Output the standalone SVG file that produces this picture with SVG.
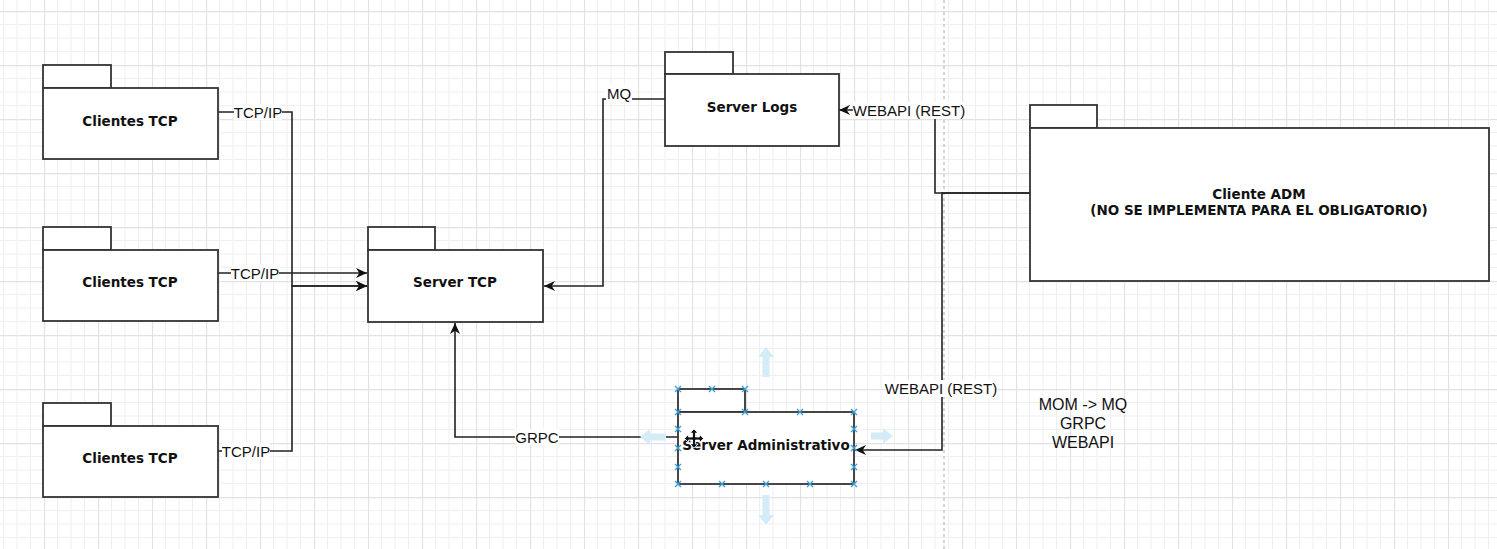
<svg xmlns="http://www.w3.org/2000/svg" width="1497" height="549" viewBox="0 0 1497 549">
<style>
.box{fill:#fff;stroke:#333;stroke-width:1.8}
.lbl{font-family:"DejaVu Sans",Verdana,sans-serif;font-weight:bold;font-size:13.5px;fill:#111;text-anchor:middle}
.edge{fill:none;stroke:#222;stroke-width:1.6}
.elbl{font-family:"Liberation Sans",Arial,sans-serif;font-size:15px;fill:#111;text-anchor:middle}
.lbg{fill:#fff}
.txt{font-family:"Liberation Sans",Arial,sans-serif;font-size:16px;fill:#111;text-anchor:middle}
.hx{stroke:#3fa0d8;stroke-width:1.4;fill:none}
.ghost{fill:#d4ebf8}
</style>
<defs>
<pattern id="grid" x="44" y="11" width="54" height="54" patternUnits="userSpaceOnUse">
<path d="M13.5,0V54M27,0V54M40.5,0V54M0,13.5H54M0,27H54M0,40.5H54" stroke="#efeff2" stroke-width="1" fill="none"/>
<path d="M0.5,0V54M0,0.5H54" stroke="#e2e2e6" stroke-width="1.3" fill="none"/>
</pattern>
<marker id="arr" markerWidth="12" markerHeight="11" refX="11" refY="5.5" orient="auto" markerUnits="userSpaceOnUse">
<path d="M0,0.5 L11,5.5 L0,10.5 L3.3,5.5 Z" fill="#111"/>
</marker>
</defs>
<rect x="0" y="0" width="1497" height="549" fill="#fff"/>
<rect x="0" y="0" width="1497" height="549" fill="url(#grid)"/>
<line x1="944" y1="0" x2="944" y2="549" stroke="#c8c8c8" stroke-width="1.5" stroke-dasharray="3,3"/>

<g id="connectors">
<path class="edge" d="M218,112 H292 V286 H367" marker-end="url(#arr)"/>
<path class="edge" d="M218,273 H367" marker-end="url(#arr)"/>
<path class="edge" d="M218,451 H292 V286 H367" marker-end="url(#arr)"/>
<path class="edge" d="M665,99 H603 V286 H544" marker-end="url(#arr)"/>
<path class="edge" d="M1030,193 H935 V110 H839" marker-end="url(#arr)"/>
<path class="edge" d="M1030,193 H942 V450 H855" marker-end="url(#arr)"/>
<path class="edge" d="M678,437 H455 V323" marker-end="url(#arr)"/>
<rect class="lbg" x="234" y="104" width="48" height="16"/>
<text class="elbl" x="258" y="117.5">TCP/IP</text>
<rect class="lbg" x="231" y="265" width="48" height="16"/>
<text class="elbl" x="255" y="278.5">TCP/IP</text>
<rect class="lbg" x="222" y="443" width="48" height="16"/>
<text class="elbl" x="246" y="456.5">TCP/IP</text>
<rect class="lbg" x="606" y="85" width="26" height="16"/>
<text class="elbl" x="619" y="98.5">MQ</text>
<rect class="lbg" x="853" y="102" width="112" height="17"/>
<text class="elbl" x="909" y="115.5">WEBAPI (REST)</text>
<rect class="lbg" x="885" y="380" width="112" height="17"/>
<text class="elbl" x="941" y="393.5">WEBAPI (REST)</text>
<rect class="lbg" x="515" y="429" width="44" height="16"/>
<text class="elbl" x="537" y="442.5">GRPC</text>
</g>

<g id="clientes-tcp-1">
<rect class="box" x="43" y="65" width="68" height="23"/>
<rect class="box" x="43" y="88" width="175" height="71"/>
<text class="lbl" x="130" y="125.5">Clientes TCP</text>
</g>
<g id="clientes-tcp-2">
<rect class="box" x="43" y="227" width="68" height="23"/>
<rect class="box" x="43" y="250" width="175" height="71"/>
<text class="lbl" x="130" y="287">Clientes TCP</text>
</g>
<g id="clientes-tcp-3">
<rect class="box" x="43" y="403" width="68" height="23"/>
<rect class="box" x="43" y="426" width="175" height="71"/>
<text class="lbl" x="130" y="463">Clientes TCP</text>
</g>
<g id="server-tcp">
<rect class="box" x="368" y="227" width="67" height="23"/>
<rect class="box" x="368" y="250" width="175" height="72"/>
<text class="lbl" x="455" y="287">Server TCP</text>
</g>
<g id="server-logs">
<rect class="box" x="665" y="52" width="68" height="22"/>
<rect class="box" x="665" y="74" width="174" height="72"/>
<text class="lbl" x="752" y="111.5">Server Logs</text>
</g>
<g id="cliente-adm">
<rect class="box" x="1030" y="105" width="67" height="23"/>
<rect class="box" x="1030" y="128" width="459" height="153"/>
<text class="lbl" x="1259" y="199">Cliente ADM</text>
<text class="lbl" x="1259" y="215">(NO SE IMPLEMENTA PARA EL OBLIGATORIO)</text>
</g>
<g id="server-administrativo">
<rect class="box" x="678" y="389" width="67" height="23"/>
<rect class="box" x="678" y="412" width="176" height="72"/>
<text class="lbl" x="766" y="450">Server Administrativo</text>
</g>

<g id="notes">
<text class="txt" x="1083" y="410">MOM -&gt; MQ</text>
<text class="txt" x="1083" y="429">GRPC</text>
<text class="txt" x="1083" y="448">WEBAPI</text>
</g>

<g id="selection">
<path class="ghost" d="M766,347 L774,357 L769.5,357 L769.5,377 L762.5,377 L762.5,357 L758,357 Z"/>
<path class="ghost" d="M766,525 L774,515 L769.5,515 L769.5,495 L762.5,495 L762.5,515 L758,515 Z"/>
<path class="ghost" d="M640,437 L650,429 L650,433.5 L666,433.5 L666,440.5 L650,440.5 L650,445 Z"/>
<path class="ghost" d="M893,436 L883,428 L883,432.5 L871,432.5 L871,439.5 L883,439.5 L883,444 Z"/>
<path class="hx" d="M675,386l6,6m0,-6l-6,6 M709,386l6,6m0,-6l-6,6 M742,386l6,6m0,-6l-6,6 M675,409l6,6m0,-6l-6,6 M742,409l6,6m0,-6l-6,6 M797,409l6,6m0,-6l-6,6 M851,409l6,6m0,-6l-6,6 M675,426l6,6m0,-6l-6,6 M675,445l6,6m0,-6l-6,6 M675,464l6,6m0,-6l-6,6 M851,426l6,6m0,-6l-6,6 M851,445l6,6m0,-6l-6,6 M851,464l6,6m0,-6l-6,6 M675,481l6,6m0,-6l-6,6 M719,481l6,6m0,-6l-6,6 M763,481l6,6m0,-6l-6,6 M807,481l6,6m0,-6l-6,6 M851,481l6,6m0,-6l-6,6"/>
<path d="M694,429 L698,433 L695.5,433 L695.5,437 L699.5,437 L699.5,434.5 L703.5,438.5 L699.5,442.5 L699.5,440 L695.5,440 L695.5,444 L698,444 L694,448 L690,444 L692.5,444 L692.5,440 L688.5,440 L688.5,442.5 L684.5,438.5 L688.5,434.5 L688.5,437 L692.5,437 L692.5,433 L690,433 Z" fill="#111" stroke="#fff" stroke-width="0.8"/>
</g>
</svg>
